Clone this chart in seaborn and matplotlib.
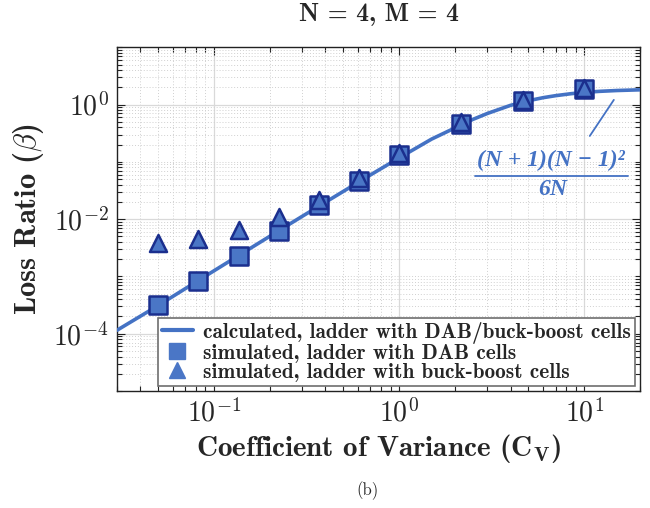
import numpy as np
import seaborn as sns
import matplotlib
matplotlib.use("Agg")
import matplotlib.pyplot as plt
from matplotlib.lines import Line2D
from matplotlib.ticker import FixedLocator, NullFormatter

# values
cv_calc = [0.03, 0.05, 0.1, 0.2, 0.3, 0.5, 0.7, 1.0, 1.5, 2.0, 2.5, 3.0,
           4.0, 5.0, 6.0, 7.0, 8.5, 10.0, 12.0, 15.0, 20.0]
beta_calc = [1.15e-4, 3.1e-4, 1.25e-3, 5.0e-3, 1.12e-2, 3.05e-2, 5.9e-2, 0.117,
             0.25, 0.39, 0.55, 0.70, 0.97, 1.17, 1.32, 1.43, 1.55, 1.63, 1.70,
             1.76, 1.81]

cv_sim = [0.05, 0.0825, 0.136, 0.224, 0.368, 0.607, 1.0, 2.154, 4.642, 10.0]
beta_dab = [3.2e-4, 8.3e-4, 2.25e-3, 6.3e-3, 0.0178, 0.047, 0.131, 0.463, 1.14, 1.87]
beta_buckboost = [3.85e-3, 4.5e-3, 6.4e-3, 0.0111, 0.0217, 0.0515, 0.143, 0.494, 1.2, 1.92]

legend_labels = ["calculated, ladder with DAB/buck-boost cells",
                 "simulated, ladder with DAB cells",
                 "simulated, ladder with buck-boost cells"]

LINE_BLUE = "#4472C4"
FACE_BLUE = "#4A76C6"
EDGE_NAVY = "#1B2F8E"

sns.set_style("ticks")
plt.rcParams["font.family"] = ["cmb10", "DejaVu Serif"]
plt.rcParams["mathtext.fontset"] = "cm"
plt.rcParams["axes.unicode_minus"] = False

fig = plt.figure(figsize=(6.5, 5.08), dpi=100)
ax = fig.add_axes([0.18, 0.2303, 0.8046, 0.6766])

sns.lineplot(x=cv_calc, y=beta_calc, ax=ax, color=LINE_BLUE, linewidth=2.6,
             zorder=3, legend=False)
sns.scatterplot(x=cv_sim, y=beta_dab, ax=ax, marker="s", s=150, color=FACE_BLUE,
                edgecolor=EDGE_NAVY, linewidth=1.8, zorder=4, legend=False)
sns.scatterplot(x=cv_sim, y=beta_buckboost, ax=ax, marker="^", s=150, color=FACE_BLUE,
                edgecolor=EDGE_NAVY, linewidth=1.8, zorder=5, legend=False)

ax.set_xscale("log")
ax.set_yscale("log")
ax.set_xlim(0.03, 20)
ax.set_ylim(1e-5, 10)

# ticks: labelled decades are major, everything else minor
ax.xaxis.set_major_locator(FixedLocator([0.1, 1, 10]))
xminor = [k * 10.0 ** d for d in range(-2, 2) for k in range(1, 10)]
ax.xaxis.set_minor_locator(FixedLocator([v for v in xminor if not np.isclose(np.log10(v) % 1, 0)]))
ax.yaxis.set_major_locator(FixedLocator([1e-4, 1e-2, 1]))
yminor = [k * 10.0 ** d for d in range(-5, 1) for k in range(1, 10)]
ax.yaxis.set_minor_locator(FixedLocator([v for v in yminor if v not in (1e-4, 1e-2, 1)] + [10]))
ax.xaxis.set_minor_formatter(NullFormatter())
ax.yaxis.set_minor_formatter(NullFormatter())
ax.set_xticklabels([r"$10^{-1}$", r"$10^{0}$", r"$10^{1}$"])
ax.set_yticklabels([r"$10^{-4}$", r"$10^{-2}$", r"$10^{0}$"])

ax.tick_params(which="both", direction="in", top=True, right=True, width=0.8, color="#222222")
ax.tick_params(which="major", length=6, labelsize=20, pad=6)
ax.tick_params(which="minor", length=3.5)

ax.grid(which="major", color="#d9d9d9", linewidth=0.9, linestyle="-")
ax.grid(which="minor", color="#d0d0d0", linewidth=0.7, linestyle=(0, (1, 2)))
ax.set_axisbelow(True)
for sp in ax.spines.values():
    sp.set_linewidth(1.0)
    sp.set_color("#222222")

ax.set_title("N = 4, M = 4", fontsize=18.5, pad=19)
ax.set_xlabel(r"Coefficient of Variance ($\mathbf{C_V}$)", fontsize=21, labelpad=3)
ax.set_ylabel(r"Loss Ratio ($\beta$)", fontsize=22, labelpad=5)

handles = [
    Line2D([], [], color=LINE_BLUE, linewidth=3),
    Line2D([], [], color=FACE_BLUE, marker="s", linestyle="none", markersize=11),
    Line2D([], [], color=FACE_BLUE, marker="^", linestyle="none", markersize=12),
]
leg = ax.legend(handles, legend_labels, loc="lower right", fontsize=15.3,
                frameon=True, fancybox=False, framealpha=1, edgecolor="#6e6e6e",
                borderaxespad=0.25, handlelength=1.5, labelspacing=0.0,
                borderpad=0.18, handletextpad=0.45)
leg.get_frame().set_linewidth(1.2)

# annotation for the asymptote
ax.text(0.83, 0.672, "(N + 1)(N − 1)²", transform=ax.transAxes, ha="center", va="center",
        color=LINE_BLUE, fontsize=17, family="Liberation Serif", weight="bold", style="italic")
ax.plot([0.685, 0.977], [0.626, 0.626], transform=ax.transAxes, color=LINE_BLUE,
        linewidth=1.3, clip_on=False)
ax.text(0.832, 0.585, "6N", transform=ax.transAxes, ha="center", va="center",
        color=LINE_BLUE, fontsize=17, family="Liberation Serif", weight="bold", style="italic")
ax.plot([0.904, 0.950], [0.742, 0.847], transform=ax.transAxes, color=LINE_BLUE,
        linewidth=1.3)

fig.text(0.565, 0.035, "(b)", ha="center", va="center", fontsize=12, family=["cmr10", "DejaVu Serif"])

fig.savefig("out.png", dpi=100)
